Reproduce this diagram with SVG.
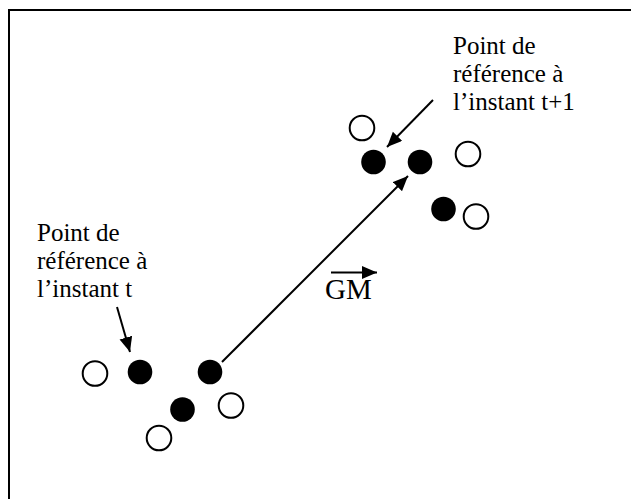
<svg xmlns="http://www.w3.org/2000/svg" width="631" height="499" viewBox="0 0 631 499">
  <style>
    .frame { fill: none; stroke: #000; stroke-width: 2; }
    .open { fill: #fff; stroke: #000; stroke-width: 2; }
    .full { fill: #000; }
    .label { font-family: "Liberation Serif", "Times New Roman", serif; font-size: 25px; fill: #000; }
    .vec { font-family: "Liberation Serif", "Times New Roman", serif; font-size: 29px; fill: #000; }
    .link { stroke: #000; stroke-width: 2; fill: none; marker-end: url(#head); }
  </style>
  <defs>
    <marker id="head" markerUnits="userSpaceOnUse" markerWidth="16" markerHeight="14" refX="15" refY="6.5" orient="auto">
      <path d="M0,0 L15,6.5 L0,13 Z" fill="#000"/>
    </marker>
  </defs>

  <rect class="frame" x="9" y="10" width="700" height="600"/>

  <!-- points at instant t -->
  <g id="points-t">
    <circle class="open" cx="95" cy="373.5" r="12.3"/>
    <circle class="full" cx="140" cy="372" r="12.3"/>
    <circle class="full" cx="210" cy="372" r="12.3"/>
    <circle class="full" cx="182.5" cy="409.5" r="12.3"/>
    <circle class="open" cx="231" cy="405.5" r="12.3"/>
    <circle class="open" cx="159" cy="438" r="12.3"/>
  </g>

  <!-- points at instant t+1 -->
  <g id="points-t1">
    <circle class="open" cx="362" cy="128" r="12.3"/>
    <circle class="full" cx="373.5" cy="162" r="12.3"/>
    <circle class="full" cx="420" cy="162" r="12.3"/>
    <circle class="open" cx="468" cy="154" r="12.3"/>
    <circle class="full" cx="443.5" cy="209" r="12.3"/>
    <circle class="open" cx="476" cy="216.5" r="12.3"/>
  </g>

  <g id="label-t">
    <text class="label" x="37" y="241">Point de</text>
    <text class="label" x="37" y="269">référence à</text>
    <text class="label" x="37" y="297">l’instant t</text>
  </g>

  <g id="label-t1">
    <text class="label" x="453" y="54">Point de</text>
    <text class="label" x="453" y="82">référence à</text>
    <text class="label" x="453" y="110">l’instant t+1</text>
  </g>

  <g id="vector-gm">
    <text class="vec" x="325" y="299">GM</text>
  </g>

  <g id="connectors">
    <line class="link" x1="117" y1="307" x2="130" y2="352"/>
    <line class="link" x1="433" y1="100" x2="387" y2="147"/>
    <line class="link" x1="222" y1="362" x2="408" y2="176"/>
    <line class="link" x1="331" y1="272.5" x2="377" y2="272.5"/>
  </g>
</svg>
